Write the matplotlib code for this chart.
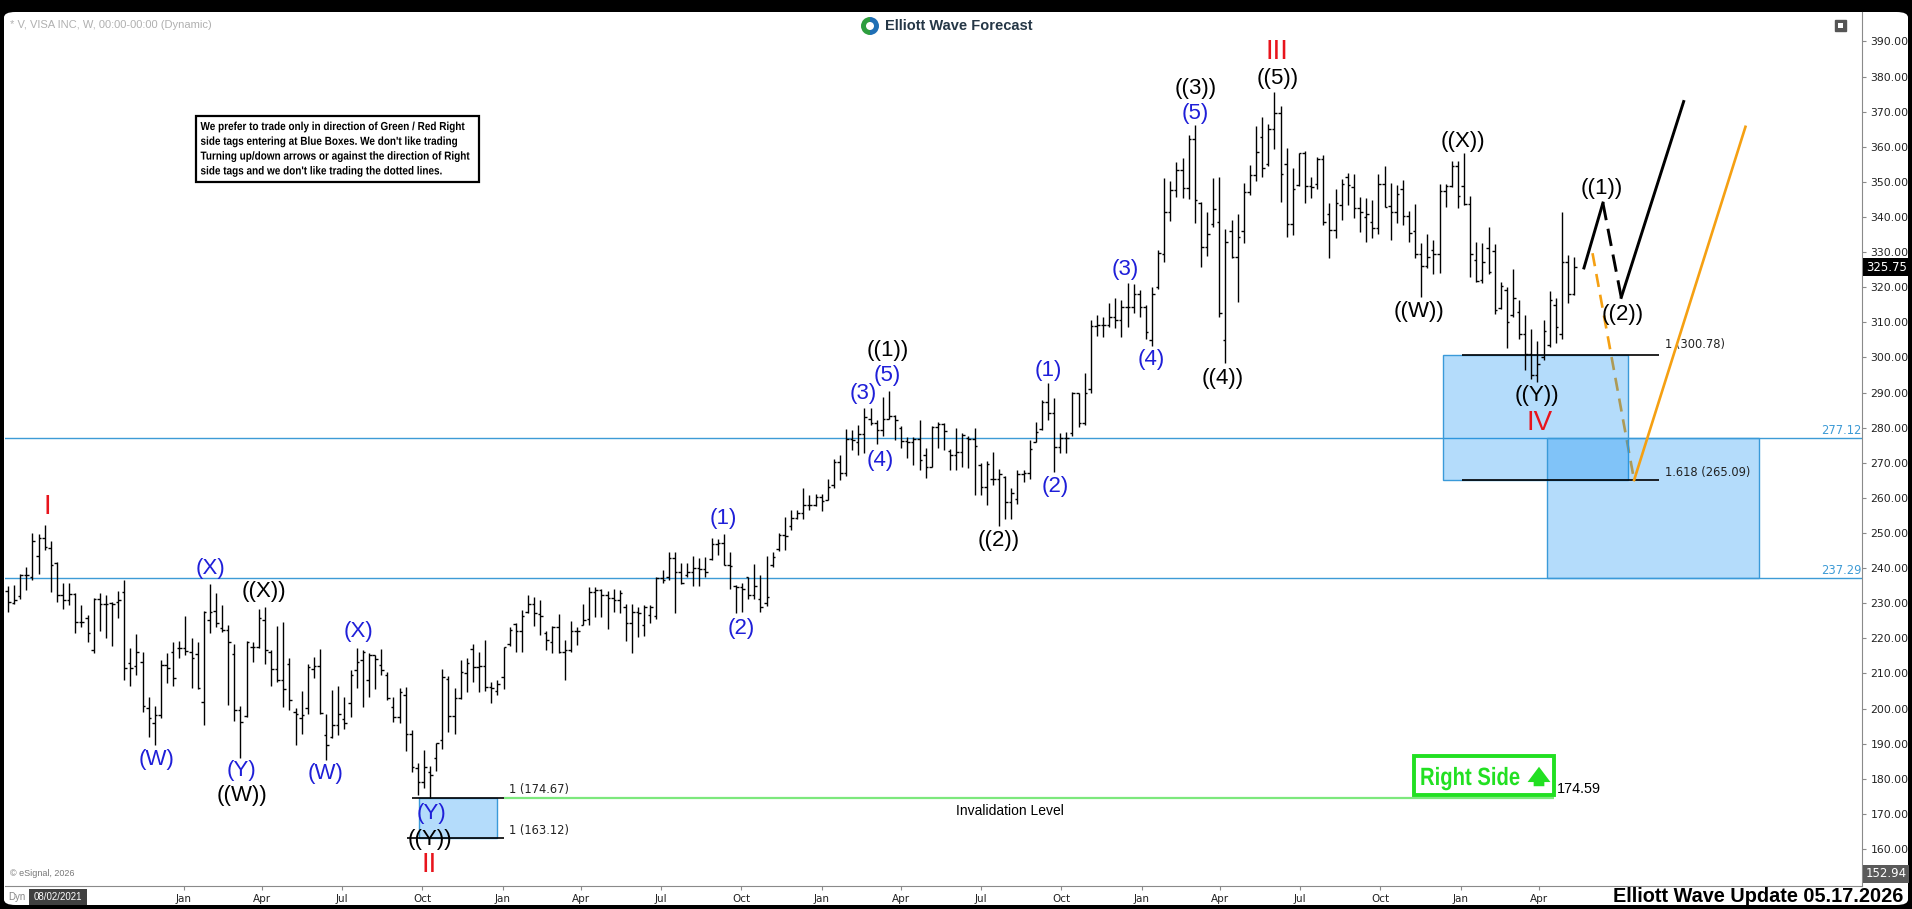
import matplotlib
matplotlib.use("Agg")
import matplotlib.pyplot as plt
import matplotlib.transforms as mtransforms
from matplotlib.collections import LineCollection
from matplotlib.patches import Rectangle, FancyBboxPatch, Wedge, Circle, PathPatch, FancyArrowPatch
from matplotlib.textpath import TextPath
from matplotlib.font_manager import FontProperties
import pandas as pd

plt.rcParams['font.family'] = ['Liberation Sans', 'DejaVu Sans']

W, H = 1912, 909
first_week = pd.Timestamp("2021-06-14")   # weekly bars, one per week from here

# weekly OHLC of V
opens = [233.5, 230.0, 232.0, 238.0, 237.5, 243.5, 248.5, 245.8, 241.4, 232.4,
         231.0, 232.6, 224.8, 225.7, 216.7, 231.1, 229.7, 230.0, 230.5, 233.1,
         212.9, 212.0, 213.4, 200.1, 195.8, 198.2, 212.4, 216.2, 217.2, 217.2,
         216.0, 215.5, 202.0, 225.2, 227.8, 222.9, 222.4, 215.5, 199.6, 197.9,
         217.6, 217.6, 225.2, 216.0, 211.2, 208.0, 212.6, 199.1, 197.2, 200.2,
         211.2, 212.2, 192.4, 192.0, 195.3, 197.0, 201.5, 210.9, 213.8, 208.1,
         215.2, 212.4, 209.7, 200.5, 197.7, 204.0, 192.9, 183.0, 179.1, 182.0,
         185.8, 191.0, 208.5, 198.0, 203.0, 210.0, 217.1, 211.9, 212.0, 206.2,
         205.0, 208.9, 218.5, 224.2, 222.0, 227.5, 229.8, 227.0, 221.5, 219.0,
         223.3, 216.0, 216.7, 222.0, 223.9, 225.5, 233.3, 233.9, 232.3, 231.4,
         230.9, 229.0, 224.5, 227.6, 223.8, 226.6, 226.5, 237.2, 237.5, 242.8,
         239.0, 238.0, 239.0, 240.0, 239.7, 242.5, 247.0, 247.1, 241.0, 235.0,
         234.5, 237.4, 232.3, 231.1, 230.0, 241.0, 245.5, 249.4, 252.0, 254.2,
         255.6, 258.0, 258.0, 260.3, 259.4, 263.6, 270.3, 267.2, 276.9, 276.0,
         278.2, 282.6, 281.4, 279.3, 282.6, 283.3, 280.0, 276.3, 276.0, 276.9,
         272.2, 268.9, 280.3, 281.0, 273.5, 272.2, 273.1, 277.0, 276.9, 269.5,
         263.2, 265.5, 265.3, 266.0, 258.9, 259.8, 266.8, 267.2, 276.0, 279.5,
         287.4, 284.3, 274.6, 277.0, 278.4, 289.8, 281.4, 290.9, 309.0, 309.3,
         309.3, 311.6, 310.7, 314.3, 314.5, 318.1, 314.5, 305.0, 320.0, 329.5,
         341.5, 347.7, 353.4, 348.2, 362.1, 344.0, 331.6, 338.0, 338.7, 305.0,
         336.1, 328.7, 336.1, 347.2, 352.0, 362.7, 355.0, 365.0, 369.7, 355.0,
         338.0, 349.0, 358.2, 348.7, 349.5, 356.5, 341.0, 336.3, 343.4, 351.3,
         348.6, 342.7, 340.1, 338.7, 336.8, 349.4, 343.1, 341.5, 348.1, 340.3,
         336.1, 329.4, 326.0, 330.6, 329.4, 347.5, 348.8, 354.5, 348.8, 343.7,
         327.7, 322.0, 331.1, 330.4, 314.0, 319.2, 312.0, 313.0, 306.8, 301.1,
         295.0, 300.2, 303.5, 315.0, 306.8, 327.3, 318.2]
highs = [234.9, 235.2, 238.2, 240.4, 249.9, 249.7, 252.3, 247.6, 241.7, 235.7,
         235.7, 233.0, 229.5, 226.7, 231.4, 232.8, 232.4, 230.5, 233.5, 236.6,
         217.2, 221.2, 216.2, 203.4, 200.8, 213.9, 215.8, 219.1, 219.3, 226.4,
         220.0, 219.1, 227.8, 235.5, 232.8, 229.5, 223.8, 218.3, 200.6, 219.3,
         219.1, 228.3, 229.0, 216.6, 223.5, 224.7, 214.3, 200.2, 205.0, 212.8,
         214.7, 217.1, 198.6, 205.3, 206.5, 203.4, 210.9, 217.3, 216.6, 215.7,
         215.4, 217.1, 210.5, 203.4, 205.9, 206.2, 193.9, 184.4, 188.2, 183.7,
         190.3, 211.2, 209.3, 205.9, 213.8, 214.3, 218.3, 216.2, 219.5, 207.6,
         208.1, 217.6, 223.3, 224.5, 228.0, 232.3, 231.9, 230.9, 222.2, 223.5,
         226.9, 219.5, 225.0, 223.3, 229.8, 234.5, 234.5, 234.0, 233.6, 234.2,
         233.8, 229.8, 229.8, 229.0, 229.5, 229.5, 237.6, 239.5, 244.7, 244.7,
         241.4, 241.4, 243.5, 242.8, 243.1, 248.5, 248.2, 249.7, 244.7, 235.2,
         235.8, 237.6, 241.2, 238.0, 243.5, 244.7, 249.9, 254.6, 256.5, 256.5,
         262.7, 260.8, 261.1, 261.1, 265.5, 271.0, 272.2, 279.5, 279.3, 280.7,
         285.5, 285.5, 282.3, 288.8, 290.4, 283.6, 280.4, 277.4, 277.4, 282.3,
         274.1, 280.4, 281.7, 281.2, 273.8, 279.8, 278.4, 277.6, 279.8, 270.0,
         270.6, 273.1, 268.1, 266.2, 262.7, 267.9, 267.9, 276.5, 281.7, 287.9,
         292.6, 288.4, 278.4, 278.9, 290.3, 290.0, 295.7, 310.7, 312.1, 311.6,
         315.6, 316.9, 316.4, 321.1, 320.9, 319.2, 314.9, 320.0, 330.6, 351.0,
         350.4, 355.8, 356.7, 363.4, 366.2, 344.4, 341.5, 351.0, 351.5, 336.5,
         339.2, 340.9, 349.8, 354.8, 365.9, 368.4, 366.5, 375.5, 371.5, 359.6,
         353.9, 358.3, 358.9, 351.5, 357.0, 357.6, 343.9, 348.1, 350.7, 352.6,
         352.2, 345.8, 345.3, 344.8, 352.4, 354.5, 349.6, 349.1, 350.5, 341.8,
         343.7, 332.7, 335.3, 333.6, 349.4, 349.4, 356.0, 356.0, 358.3, 346.0,
         333.0, 332.7, 337.2, 332.3, 321.6, 320.1, 325.1, 316.5, 312.1, 308.0,
         304.8, 310.6, 319.0, 316.8, 341.5, 329.2, 328.5]
lows = [227.4, 229.8, 231.2, 233.8, 236.6, 238.3, 245.2, 233.3, 230.5, 228.3,
        229.5, 221.4, 223.3, 218.9, 215.8, 222.1, 220.2, 217.9, 225.7, 208.2,
        206.3, 209.6, 199.1, 192.0, 189.6, 197.2, 207.2, 206.3, 214.3, 215.3,
        206.0, 205.6, 195.2, 221.4, 223.3, 221.9, 201.0, 196.5, 185.8, 197.7,
        213.4, 217.2, 212.6, 206.5, 207.6, 200.5, 199.6, 189.6, 192.9, 198.6,
        208.6, 198.6, 185.3, 191.7, 192.4, 194.3, 197.7, 205.9, 200.5, 203.4,
        205.7, 209.7, 202.4, 196.2, 195.8, 187.9, 182.0, 175.4, 177.4, 174.6,
        182.2, 188.6, 193.4, 192.9, 202.7, 204.8, 207.6, 204.8, 205.0, 201.7,
        204.0, 205.7, 217.9, 216.2, 216.0, 227.1, 223.5, 221.0, 216.7, 215.9,
        215.9, 208.1, 216.2, 218.1, 223.8, 223.8, 226.2, 226.0, 222.8, 227.6,
        227.1, 219.3, 215.7, 220.5, 220.7, 224.3, 225.4, 235.9, 236.6, 227.1,
        235.5, 237.4, 234.9, 234.9, 237.4, 242.3, 243.7, 240.9, 234.2, 227.3,
        227.6, 231.1, 231.1, 227.6, 229.2, 240.4, 245.0, 245.1, 251.0, 253.9,
        253.9, 256.5, 257.7, 256.3, 259.4, 262.7, 265.1, 266.2, 273.6, 272.2,
        272.7, 280.7, 275.5, 277.6, 282.4, 276.5, 274.1, 271.5, 269.3, 267.9,
        265.8, 268.7, 274.1, 273.6, 267.9, 267.9, 268.7, 268.4, 260.8, 260.8,
        258.0, 263.6, 252.0, 253.9, 253.9, 258.2, 264.6, 265.3, 275.8, 279.3,
        282.2, 267.5, 272.7, 272.7, 277.5, 280.3, 280.8, 289.8, 306.0, 305.7,
        308.8, 308.3, 305.9, 308.8, 312.8, 311.4, 305.2, 303.3, 319.4, 327.3,
        339.0, 345.6, 345.3, 345.1, 338.4, 325.7, 328.9, 337.3, 311.4, 298.3,
        328.2, 315.9, 332.7, 346.3, 350.4, 351.5, 354.4, 359.3, 344.4, 334.2,
        334.9, 348.9, 343.9, 345.3, 348.1, 337.7, 328.2, 333.9, 339.1, 343.4,
        339.6, 335.8, 333.0, 333.9, 335.1, 342.9, 333.6, 338.2, 337.7, 333.0,
        328.2, 317.3, 325.4, 323.7, 324.1, 342.9, 348.5, 342.7, 343.4, 323.0,
        321.6, 321.1, 323.9, 312.4, 313.7, 302.6, 311.6, 305.4, 296.4, 294.0,
        293.1, 299.4, 303.0, 304.0, 305.4, 315.6, 317.8]
closes = [230.3, 231.0, 238.0, 238.0, 247.7, 248.7, 246.1, 240.9, 232.4, 231.0,
          232.6, 224.8, 224.6, 221.4, 231.1, 229.7, 229.7, 229.7, 231.0, 211.5,
          211.5, 216.0, 200.6, 197.2, 198.2, 212.4, 211.7, 208.6, 217.2, 216.4,
          214.3, 206.0, 227.6, 227.6, 224.3, 222.4, 219.1, 199.6, 196.3, 219.1,
          217.6, 225.7, 216.6, 211.2, 208.0, 205.7, 202.4, 198.6, 198.3, 211.9,
          212.2, 198.8, 189.6, 195.3, 198.6, 195.8, 209.7, 213.3, 216.0, 215.4,
          214.0, 211.0, 203.0, 197.7, 204.6, 192.9, 183.4, 179.1, 183.4, 181.0,
          190.1, 209.0, 198.0, 203.0, 210.5, 212.9, 211.9, 212.0, 206.2, 205.9,
          207.0, 217.4, 222.4, 222.0, 226.5, 229.8, 227.3, 226.4, 219.5, 223.3,
          216.0, 216.7, 222.0, 222.1, 225.2, 233.3, 233.9, 232.3, 231.4, 230.9,
          232.8, 224.5, 227.6, 227.3, 229.0, 229.0, 237.2, 236.6, 242.8, 239.0,
          235.7, 239.0, 240.0, 239.7, 239.0, 247.0, 247.1, 241.0, 240.6, 234.5,
          234.2, 232.3, 234.9, 229.0, 231.9, 243.3, 249.4, 249.2, 254.2, 255.6,
          258.0, 258.0, 260.3, 259.1, 263.2, 270.3, 267.2, 276.9, 276.4, 278.2,
          283.1, 281.4, 279.3, 282.6, 283.3, 282.3, 276.3, 276.0, 276.9, 270.8,
          268.9, 280.3, 281.0, 279.1, 272.2, 273.1, 277.9, 276.9, 274.8, 263.2,
          269.8, 265.3, 266.8, 258.9, 261.3, 266.8, 267.2, 274.0, 278.8, 287.4,
          284.3, 274.6, 277.0, 277.0, 289.8, 281.4, 290.0, 309.0, 309.3, 309.3,
          311.6, 310.7, 314.3, 314.5, 318.1, 314.5, 307.4, 318.0, 329.7, 341.5,
          347.7, 353.4, 348.2, 362.1, 344.9, 331.6, 335.2, 342.2, 312.6, 333.0,
          328.7, 334.4, 347.2, 352.0, 358.6, 353.9, 365.0, 369.7, 352.3, 338.0,
          347.9, 358.2, 348.7, 348.5, 356.5, 338.5, 336.3, 343.9, 349.4, 349.1,
          342.7, 341.5, 341.0, 336.8, 349.4, 343.0, 341.5, 346.7, 340.3, 335.5,
          329.4, 326.0, 328.5, 329.6, 347.5, 348.8, 354.5, 346.0, 343.7, 329.5,
          321.8, 327.3, 324.4, 313.5, 320.3, 310.0, 316.8, 306.8, 301.1, 295.0,
          298.1, 307.5, 316.5, 308.7, 327.3, 318.2, 325.75]

# levels drawn on the chart
blue_lines = [277.12, 237.29]
fib_top, fib_ext = 300.78, 265.09
ii_top, ii_bot = 174.67, 163.12
invalidation = 174.59
last_price, bottom_price = 325.75, 152.94

BLUE = '#1f1fd8'
RED = '#e8141c'
GREEN = '#22e022'
wave_labels = [
    ('I', 6.4, 257.4, RED), ('(W)', 24.3, 185.4, BLUE), ('(X)', 33.1, 240.0, BLUE),
    ('(Y)', 38.2, 182.5, BLUE), ('((W))', 38.2, 175.3, 'black'), ('((X))', 41.9, 233.3, 'black'),
    ('(W)', 51.9, 181.6, BLUE), ('(X)', 57.3, 221.9, BLUE), ('(Y)', 69.3, 170.2, BLUE),
    ('((Y))', 69.0, 162.6, 'black'), ('II', 68.9, 155.4, RED),
    ('(1)', 116.9, 254.2, BLUE), ('(2)', 119.9, 222.9, BLUE), ('(3)', 139.8, 289.8, BLUE),
    ('(5)', 143.7, 295.0, BLUE), ('((1))', 143.8, 302.1, 'black'), ('(4)', 142.5, 270.8, BLUE),
    ('((2))', 161.9, 248.0, 'black'), ('(1)', 170.0, 296.4, BLUE), ('(2)', 171.1, 263.2, BLUE),
    ('(3)', 182.6, 325.1, BLUE), ('(4)', 186.8, 299.3, BLUE), ('((4))', 198.5, 294.1, 'black'),
    ('(5)', 194.1, 369.4, BLUE), ('((3))', 194.1, 376.5, 'black'), ('((5))', 207.6, 379.6, 'black'),
    ('III', 207.4, 387.0, RED), ('((W))', 230.7, 313.0, 'black'), ('((X))', 237.8, 361.5, 'black'),
    ('((Y))', 249.9, 289.3, 'black'), ('IV', 250.3, 281.3, RED),
    ('((1))', 260.5, 348.2, 'black'), ('((2))', 264.0, 312.3, 'black'),
]

note_lines = ["We prefer to trade only in direction of Green / Red Right",
              "side tags entering at Blue Boxes. We don't like trading",
              "Turning up/down arrows or against the direction of Right",
              "side tags and we don't like trading the dotted lines."]


def fx(px):
    return px / W


def fy(py):
    return 1 - py / H


def narrow_text(fig, s, x0, baseline, size_px, squeeze, color, weight='bold'):
    # condensed text drawn as a path (no narrow font installed)
    tp = TextPath((0, 0), s, size=size_px, prop=FontProperties(family='Liberation Sans', weight=weight))
    tr = (mtransforms.Affine2D().scale(squeeze / 100, 1 / 100)
          .translate(x0 / 100, (H - baseline) / 100) + fig.dpi_scale_trans)
    fig.add_artist(PathPatch(tp, transform=tr, fc=color, ec='none', zorder=20))


fig = plt.figure(figsize=(W / 100, H / 100), dpi=100, facecolor='black')
bg = FancyBboxPatch((fx(4), fy(905)), fx(1908) - fx(4), fy(12) - fy(905),
                    boxstyle='round,pad=0,rounding_size=0.006', transform=fig.transFigure,
                    fc='white', ec='none', zorder=-5)
fig.add_artist(bg)

ax = fig.add_axes([fx(5), fy(886), (1862 - 5) / W, (886 - 12) / H])
ax.patch.set_visible(False)
ax.set_xlim(-0.49, 303.05)
ax.set_ylim(149.47, 398.4)
for s in ['top', 'left']:
    ax.spines[s].set_visible(False)
for s in ['bottom', 'right']:
    ax.spines[s].set_color('#8a8a8a')

ax.yaxis.tick_right()
yt = list(range(160, 400, 10))
ax.set_yticks(yt)
ax.set_yticklabels([f"{v:.2f}" for v in yt], family='DejaVu Sans')
ax.tick_params(axis='y', length=3, width=0.8, color='#8a8a8a', pad=3, labelsize=7.8,
               labelcolor='#222222')

quarters = pd.date_range("2022-01-01", "2026-04-01", freq="QS")
ax.set_xticks([(d - first_week).days / 7 for d in quarters])
ax.set_xticklabels([d.strftime('%b') for d in quarters], family='DejaVu Sans')
ax.tick_params(axis='x', length=3, width=0.8, color='#8a8a8a', pad=3, labelsize=7.5,
               labelcolor='#222222')

# OHLC bars
segs = []
for i, (o, h, l, c) in enumerate(zip(opens, highs, lows, closes)):
    segs += [[(i, l), (i, h)], [(i - 0.42, o), (i, o)], [(i, c), (i + 0.42, c)]]
ax.add_collection(LineCollection(segs, colors='black', linewidths=1.0, zorder=4))

# blue horizontal levels
for lv in blue_lines:
    ax.axhline(lv, color='#3d9bd6', lw=1.0, zorder=1)
    ax.text(303.0, lv + 0.2, f"{lv:.2f}", ha='right', va='bottom', color='#3d9bd6',
            fontsize=8.3, family='DejaVu Sans')

# blue boxes
box_fc = (11 / 255, 141 / 255, 242 / 255, 0.307)
ax.add_patch(Rectangle((234.6, fib_ext), 264.8 - 234.6, fib_top - fib_ext, fc=box_fc,
                       ec='#3a9ad9', lw=1, zorder=3))
ax.add_patch(Rectangle((251.6, blue_lines[1]), 286.2 - 251.6, blue_lines[0] - blue_lines[1],
                       fc=box_fc, ec='#3a9ad9', lw=1, zorder=3))
ax.add_patch(Rectangle((67.1, ii_bot), 80.0 - 67.1, ii_top - ii_bot, fc=box_fc,
                       ec='#3a9ad9', lw=1, zorder=3))

# fib lines and their labels
ax.hlines([fib_top, fib_ext], 237.6, 269.9, color='black', lw=1.2, zorder=5)
ax.text(270.8, fib_top + 1.0, f"1 ({fib_top:.2f})", fontsize=8.3, family='DejaVu Sans',
        color='#222222', va='bottom')
ax.text(270.8, fib_ext + 0.4, f"1.618 ({fib_ext:.2f})", fontsize=8.3, family='DejaVu Sans',
        color='#222222', va='bottom')
ax.hlines(ii_top, 66.1, 81.1, color='black', lw=1.2, zorder=5)
ax.hlines(ii_bot, 65.2, 81.1, color='black', lw=1.2, zorder=5)
ax.text(81.9, ii_top + 0.3, f"1 ({ii_top:.2f})", fontsize=8.3, family='DejaVu Sans',
        color='#222222', va='bottom')
ax.text(81.9, ii_bot + 0.3, f"1 ({ii_bot:.2f})", fontsize=8.3, family='DejaVu Sans',
        color='#222222', va='bottom')

# invalidation level and the right side tag
ax.hlines(invalidation, 81.1, 252.7, color='#7de87d', lw=1.6, zorder=2)
ax.text(253.2, invalidation + 0.4, f"{invalidation:.2f}", fontsize=10.4, va='bottom')
ax.text(163.8, 170.7, "Invalidation Level", fontsize=10, ha='center', va='center')
ax.add_patch(Rectangle((229.8, 175.3), 252.7 - 229.8, 186.5 - 175.3, fc='white',
                       ec=GREEN, lw=2.8, zorder=6))
narrow_text(fig, "Right Side", 1420, 785, 25.0, 0.81, GREEN)
fig.add_artist(FancyArrowPatch((1539 / 100, (H - 789) / 100), (1539 / 100, (H - 764) / 100),
                               arrowstyle='simple,head_width=1.5,head_length=1.0,tail_width=0.7',
                               mutation_scale=11, fc=GREEN, ec='none',
                               transform=fig.dpi_scale_trans, zorder=20))

# projected paths
ax.plot([259.0, 265.8], [329.7, fib_ext], color='#f5a012', lw=1.9, dashes=(5, 3), zorder=2)
ax.plot([265.8, 284.0], [fib_ext, 365.7], color='#f5a012', lw=1.9, zorder=5)
ax.plot([257.6, 260.7], [325.5, 344.0], color='black', lw=2.1, zorder=5)
ax.plot([260.7, 263.7], [344.0, 317.1], color='black', lw=2.1, dashes=(6, 3), zorder=5)
ax.plot([263.7, 273.9], [317.1, 372.9], color='black', lw=2.1, zorder=5)

# wave labels
for txt, xi, yp, col in wave_labels:
    size = 20 if col == RED else 16
    ax.text(xi, yp, txt, color=col, fontsize=size, ha='center', va='center', zorder=8)

# price tags on the right scale
tr = mtransforms.blended_transform_factory(ax.transAxes, ax.transData)
ax.text(1.002, last_price, f"{last_price:.2f}", transform=tr, color='white', fontsize=8.5,
        family='DejaVu Sans', va='center', ha='left', clip_on=False,
        bbox=dict(boxstyle='square,pad=0.2', fc='black', ec='none'))
ax.text(1.002, bottom_price, f"{bottom_price:.2f}", transform=tr, color='white', fontsize=8.5,
        family='DejaVu Sans', va='center', ha='left', clip_on=False,
        bbox=dict(boxstyle='square,pad=0.2', fc='#5a5a5a', ec='none'))

# header
fig.text(fx(10), fy(25), "* V, VISA INC, W, 00:00-00:00 (Dynamic)", color='#b0b0b0',
         fontsize=8, va='center')
c0 = (870 / 100, (H - 26) / 100)
fig.add_artist(Wedge(c0, 0.09, 90, 270, fc='#2e9e3e', ec='none',
                     transform=fig.dpi_scale_trans))
fig.add_artist(Wedge(c0, 0.09, 270, 90, fc='#1f6fb5', ec='none',
                     transform=fig.dpi_scale_trans))
fig.add_artist(Circle(c0, 0.04, fc='white', ec='none', transform=fig.dpi_scale_trans))
fig.text(fx(885), fy(26), "Elliott Wave Forecast", color='#253746', fontsize=10.5,
         fontweight='bold', va='center')
fig.add_artist(Rectangle((1835 / 100, (H - 31) / 100), 0.11, 0.11, fc='#555555',
                         ec='#555555', transform=fig.dpi_scale_trans))
fig.add_artist(Rectangle((1838 / 100, (H - 28) / 100), 0.05, 0.05, fc='white',
                         ec='none', transform=fig.dpi_scale_trans))

# note box
fig.add_artist(Rectangle((196 / 100, (H - 182) / 100), (479 - 196) / 100, (182 - 116) / 100,
                         fc='white', ec='black', lw=1.6, transform=fig.dpi_scale_trans))
for k, line in enumerate(note_lines):
    narrow_text(fig, line, 200.5, 130 + 14.8 * k, 11.6, 0.86, 'black')

# footer
fig.text(fx(10), fy(873), "\u00a9 eSignal, 2026", color='#777777', fontsize=6.5, va='center')
fig.text(fx(8), fy(897), "Dyn", color='#888888', fontsize=7, va='center')
fig.add_artist(Rectangle((29 / 100, (H - 905) / 100), 0.58, 0.16, fc='#404040', ec='none',
                         transform=fig.dpi_scale_trans))
fig.text(fx(58), fy(897), "08/02/2021", color='white', fontsize=7, ha='center', va='center')
fig.text(fx(1903), fy(897), "Elliott Wave Update 05.17.2026", fontsize=14.3,
         fontweight='bold', ha='right', va='center')

fig.savefig("out.png", dpi=100, facecolor='black')
